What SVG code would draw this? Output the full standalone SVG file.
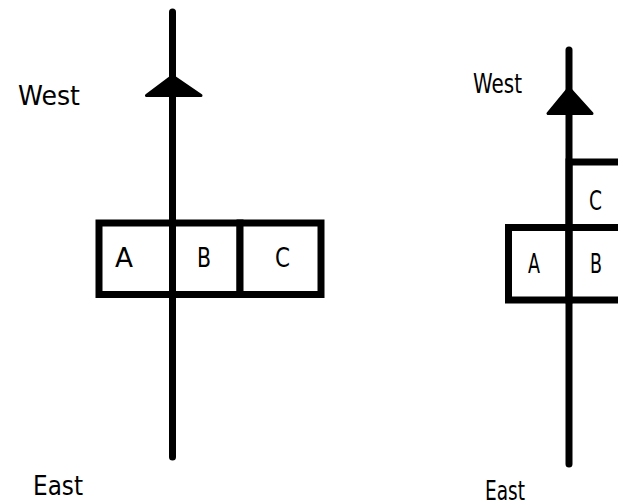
<svg xmlns="http://www.w3.org/2000/svg" width="618" height="504" viewBox="0 0 618 504">
<style>
.cell{fill:#fff;stroke:#000;stroke-width:7}
.axis{stroke:#000;stroke-width:7;stroke-linecap:round;fill:none}
.head{fill:#000;stroke:#000;stroke-width:3;stroke-linejoin:round}
.lbl{font-family:"DejaVu Sans",Verdana,sans-serif;font-size:27px;fill:#000}
.cl{font-family:"DejaVu Sans",Verdana,sans-serif;font-size:27px;fill:#000;text-anchor:middle}
</style>
<rect width="618" height="504" fill="#fff"/>
<!-- left diagram -->
<g id="left-A"><rect class="cell" x="99" y="223" width="73.5" height="71.5"/><text class="cl" x="124" y="267" textLength="18" lengthAdjust="spacingAndGlyphs">A</text></g>
<g id="left-B"><rect class="cell" x="172.5" y="223" width="67.5" height="71.5"/><text class="cl" x="204" y="267" textLength="14" lengthAdjust="spacingAndGlyphs">B</text></g>
<g id="left-C"><rect class="cell" x="240" y="223" width="81" height="71.5"/><text class="cl" x="282.5" y="267" textLength="15" lengthAdjust="spacingAndGlyphs">C</text></g>
<g id="left-west"><text class="lbl" x="18" y="105" textLength="62" lengthAdjust="spacingAndGlyphs">West</text></g>
<g id="left-east"><text class="lbl" x="33" y="495" textLength="50" lengthAdjust="spacingAndGlyphs">East</text></g>
<!-- right diagram -->
<g id="right-C"><rect class="cell" x="569" y="162" width="80" height="65.5"/><text class="cl" x="595.5" y="210" textLength="13" lengthAdjust="spacingAndGlyphs">C</text></g>
<g id="right-A"><rect class="cell" x="508.5" y="227.5" width="60.5" height="72.5"/><text class="cl" x="534" y="273" textLength="12" lengthAdjust="spacingAndGlyphs">A</text></g>
<g id="right-B"><rect class="cell" x="569" y="227.5" width="80" height="72.5"/><text class="cl" x="596" y="273" textLength="12" lengthAdjust="spacingAndGlyphs">B</text></g>
<g id="right-west"><text class="lbl" x="473" y="93" textLength="49" lengthAdjust="spacingAndGlyphs">West</text></g>
<g id="right-east"><text class="lbl" x="485" y="500" textLength="40" lengthAdjust="spacingAndGlyphs">East</text></g>
<!-- connectors -->
<g id="connectors">
<line class="axis" x1="172.5" y1="12" x2="172.5" y2="457"/>
<path class="head" d="M172.5,76 L146.5,95.5 L201,95.5 Z"/>
<line class="axis" x1="569" y1="50" x2="569" y2="464"/>
<path class="head" d="M569,88 L548,113.5 L592,113.5 Z"/>
</g>
</svg>
